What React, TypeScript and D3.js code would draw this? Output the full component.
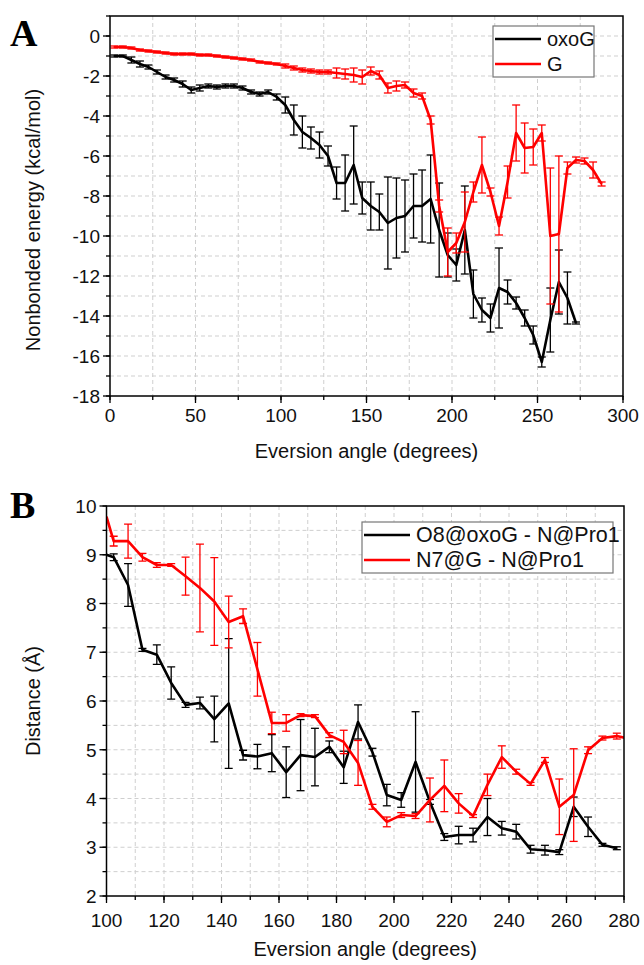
import React from "react";
import * as d3 from "d3";

// ---------- Panel A data ----------
const anglesA = [2.5, 7.5, 12.5, 17.5, 22.5, 27.5, 32.5, 37.5, 42.5, 47.5, 52.5, 57.5, 62.5, 67.5, 72.5, 77.5, 82.5, 87.5, 92.5, 97.5,
  102.5, 107.5, 112.5, 117.5, 122.5, 127.5, 132.5, 137.5, 142.5, 147.5, 152.5, 157.5, 162.5, 167.5, 172.5, 177.5, 182.5, 187.5, 192.5, 197.5,
  202.5, 207.5, 212.5, 217.5, 222.5, 227.5, 232.5, 237.5, 242.5, 247.5, 252.5, 257.5, 262.5, 267.5, 272.5, 277.5, 282.5, 287.5];
const oxoGEnergy = [-1.0, -1.0, -1.2, -1.4, -1.55, -1.8, -2.05, -2.2, -2.4, -2.7, -2.6, -2.5, -2.55, -2.5, -2.5, -2.6, -2.8, -2.9, -2.8, -3.05,
  -3.45, -4.2, -4.8, -5.1, -5.45, -6.0, -7.35, -7.35, -6.45, -8.1, -8.5, -8.8, -9.35, -9.1, -9.0, -8.5, -8.5, -8.15, -9.7, -10.95,
  -11.45, -9.7, -12.9, -13.7, -14.1, -12.6, -12.8, -13.35, -14.1, -14.95, -16.3, -14.2, -12.3, -13.1, -14.35];
const oxoGEnergyErr = [0.05, 0.05, 0.15, 0.15, 0.1, 0.1, 0.1, 0.1, 0.15, 0.15, 0.15, 0.1, 0.1, 0.1, 0.1, 0.1, 0.1, 0.1, 0.1, 0.15,
  0.4, 0.75, 0.8, 0.55, 0.65, 0.5, 0.8, 1.4, 1.95, 0.8, 1.2, 0.9, 2.3, 2.0, 1.8, 1.6, 1.8, 2.2, 2.35, 1.1,
  0.8, 2.2, 1.2, 0.6, 0.7, 2.0, 0.6, 0.3, 0.4, 0.45, 0.25, 1.6, 1.6, 1.3, 0.05];
const gEnergy = [-0.55, -0.55, -0.6, -0.7, -0.75, -0.8, -0.85, -0.9, -0.9, -0.9, -0.95, -0.95, -1.0, -1.05, -1.1, -1.15, -1.2, -1.3, -1.35, -1.4,
  -1.5, -1.6, -1.7, -1.75, -1.8, -1.8, -1.85, -1.9, -1.95, -2.05, -1.75, -1.95, -2.6, -2.5, -2.45, -2.85, -3.0, -4.2, -8.5, -10.8,
  -10.35, -9.3, -7.8, -6.45, -7.8, -9.5, -7.3, -4.85, -5.6, -5.55, -4.85, -10.0, -9.9, -6.6, -6.2, -6.25, -6.7, -7.4];
const gEnergyErr = [0.05, 0.05, 0.05, 0.05, 0.05, 0.05, 0.05, 0.05, 0.05, 0.05, 0.05, 0.05, 0.05, 0.05, 0.05, 0.05, 0.05, 0.05, 0.05, 0.05,
  0.1, 0.1, 0.1, 0.1, 0.1, 0.1, 0.25, 0.25, 0.35, 0.35, 0.2, 0.2, 0.25, 0.25, 0.15, 0.2, 0.15, 0.2, 0.3, 1.2,
  0.5, 1.5, 0.5, 1.4, 0.2, 0.45, 0.8, 1.4, 1.25, 0.9, 0.4, 3.4, 3.9, 0.3, 0.15, 0.15, 0.4, 0.1];

// ---------- Panel B data ----------
const anglesB = [100, 102.5, 107.5, 112.5, 117.5, 122.5, 127.5, 132.5, 137.5, 142.5, 147.5, 152.5, 157.5, 162.5, 167.5, 172.5, 177.5, 182.5, 187.5, 192.5,
  197.5, 202.5, 207.5, 212.5, 217.5, 222.5, 227.5, 232.5, 237.5, 242.5, 247.5, 252.5, 257.5, 262.5, 267.5, 272.5, 277.5, 282.5];
const o8Distance = [9.0, 8.95, 8.38, 7.05, 6.95, 6.37, 5.92, 5.96, 5.63, 5.95, 4.89, 4.86, 4.93, 4.54, 4.89, 4.85, 5.06, 4.64, 5.57, 4.95,
  4.07, 3.97, 4.75, 3.93, 3.21, 3.25, 3.25, 3.62, 3.39, 3.32, 2.96, 2.94, 2.9, 3.83, 3.42, 3.05, 2.98];
const o8DistanceErr = [0, 0.07, 0.44, 0.03, 0.2, 0.33, 0.05, 0.12, 0.47, 1.33, 0.1, 0.25, 0.38, 0.52, 0.73, 0.59, 0.12, 0.33, 0.35, 0.08,
  0.22, 0.15, 1.03, 0.05, 0.07, 0.18, 0.14, 0.38, 0.14, 0.15, 0.08, 0.1, 0.05, 0.2, 0.2, 0.03, 0.03];
const n7Distance = [9.78, 9.28, 9.28, 8.95, 8.79, 8.79, 8.56, 8.32, 8.04, 7.62, 7.74, 6.65, 5.55, 5.55, 5.71, 5.69, 5.3, 5.16, 4.73, 3.83,
  3.52, 3.66, 3.64, 3.97, 4.26, 3.9, 3.64, 4.28, 4.85, 4.55, 4.3, 4.79, 3.83, 4.07, 4.99, 5.24, 5.28, 5.22];
const n7DistanceErr = [0, 0.1, 0.35, 0.08, 0.05, 0.03, 0.39, 0.9, 0.9, 0.53, 0.15, 0.55, 0.22, 0.17, 0.03, 0.03, 0.05, 0.24, 0.46, 0.05,
  0.1, 0.05, 0.05, 0.45, 0.53, 0.2, 0.03, 0.22, 0.23, 0.05, 0.03, 0.05, 0.57, 0.95, 0.07, 0.04, 0.06, 0];

const legendA = ["oxoG", "G"];
const legendB = ["O8@oxoG - N@Pro1", "N7@G - N@Pro1"];

const FONT = "'Liberation Sans', Arial, sans-serif";
const RED = "#ff0000";
const BLACK = "#000000";

type Pt = { x: number; y: number; e: number };

function series(xs: number[], ys: number[], es: number[]): Pt[] {
  return ys.map((y, i) => ({ x: xs[i], y, e: es[i] }));
}

type PanelProps = {
  id: string;
  left: number; right: number; top: number; bottom: number;
  xDomain: [number, number]; yDomain: [number, number];
  xMajor: number; xMinor: number; yMajor: number; yMinor: number;
  xGrid: number; yGrid: number;
  data: { pts: Pt[]; color: string }[];
  yTitle: string; titleY: number;
  xTickDy: number; xTitleY: number;
  legend: { labels: string[]; x: number; y: number; w: number; h: number; lineLen: number; fontSize: number };
  letter: string; letterY: number;
};

function Panel(p: PanelProps) {
  const x = d3.scaleLinear().domain(p.xDomain).range([p.left, p.right]);
  const y = d3.scaleLinear().domain(p.yDomain).range([p.bottom, p.top]);
  const eps = 1e-9;
  const rng = (a: number, b: number, s: number) => d3.range(a, b + s / 2, s);
  const xGrid = rng(p.xDomain[0], p.xDomain[1], p.xGrid).filter(v => v > p.xDomain[0] + eps && v < p.xDomain[1] - eps);
  const yGrid = rng(p.yDomain[0], p.yDomain[1], p.yGrid).filter(v => v > p.yDomain[0] + eps && v < p.yDomain[1] - eps);
  const xMinor = rng(p.xDomain[0], p.xDomain[1], p.xMinor);
  const xMajor = rng(p.xDomain[0], p.xDomain[1], p.xMajor);
  const yStart = Math.ceil(p.yDomain[0] / p.yMajor) * p.yMajor;
  const yMajor = rng(yStart, p.yDomain[1], p.yMajor).filter(v => v <= p.yDomain[1] + eps);
  const yMinor = rng(p.yDomain[0], p.yDomain[1], p.yMinor);
  const line = d3.line<Pt>().x(d => x(d.x)).y(d => y(d.y));
  const cap = 4;
  const clipId = "clip" + p.id;
  return (
    <g>
      <defs>
        <clipPath id={clipId}>
          <rect x={p.left} y={p.top} width={p.right - p.left} height={p.bottom - p.top} />
        </clipPath>
      </defs>
      {/* grid */}
      <g stroke="#cfcfcf" strokeWidth={1} strokeDasharray="4 3">
        {xGrid.map(v => <line key={"gx" + v} x1={x(v)} x2={x(v)} y1={p.top} y2={p.bottom} />)}
        {yGrid.map(v => <line key={"gy" + v} x1={p.left} x2={p.right} y1={y(v)} y2={y(v)} />)}
      </g>
      {/* data */}
      <g clipPath={`url(#${clipId})`}>
        {p.data.map((s, si) => (
          <g key={"s" + si}>
            <g stroke={s.color} strokeWidth={1.3} fill="none">
              {s.pts.filter(d => d.e > 0.02).map((d, i) => (
                <g key={i}>
                  <line x1={x(d.x)} x2={x(d.x)} y1={y(d.y + d.e)} y2={y(d.y - d.e)} />
                  <line x1={x(d.x) - cap} x2={x(d.x) + cap} y1={y(d.y + d.e)} y2={y(d.y + d.e)} />
                  <line x1={x(d.x) - cap} x2={x(d.x) + cap} y1={y(d.y - d.e)} y2={y(d.y - d.e)} />
                </g>
              ))}
            </g>
            <path d={line(s.pts) || ""} fill="none" stroke={s.color} strokeWidth={2.6} strokeLinejoin="round" />
          </g>
        ))}
      </g>
      {/* frame */}
      <rect x={p.left} y={p.top} width={p.right - p.left} height={p.bottom - p.top} fill="none" stroke="#000" strokeWidth={1.5} />
      {/* ticks */}
      <g stroke="#000" strokeWidth={1.3}>
        {xMinor.map(v => <line key={"xm" + v} x1={x(v)} x2={x(v)} y1={p.bottom} y2={p.bottom + 4} />)}
        {xMajor.map(v => <line key={"xM" + v} x1={x(v)} x2={x(v)} y1={p.bottom} y2={p.bottom + 7} />)}
        {yMinor.map(v => <line key={"ym" + v} x1={p.left - 4} x2={p.left} y1={y(v)} y2={y(v)} />)}
        {yMajor.map(v => <line key={"yM" + v} x1={p.left - 7} x2={p.left} y1={y(v)} y2={y(v)} />)}
      </g>
      <g fontFamily={FONT} fontSize={19} fill="#111">
        {xMajor.map(v => (
          <text key={"xl" + v} x={x(v)} y={p.bottom + p.xTickDy} textAnchor="middle">{v}</text>
        ))}
        {yMajor.map(v => (
          <text key={"yl" + v} x={p.left - 10} y={y(v) + 7} textAnchor="end">{v}</text>
        ))}
      </g>
      <text x={(p.left + p.right) / 2} y={p.xTitleY} textAnchor="middle" fontFamily={FONT} fontSize={20} fill="#111">Eversion angle (degrees)</text>
      <text transform={`translate(40,${p.titleY}) rotate(-90)`} textAnchor="middle" fontFamily={FONT} fontSize={20} fill="#111">{p.yTitle}</text>
      {/* legend */}
      <g>
        <rect x={p.legend.x} y={p.legend.y} width={p.legend.w} height={p.legend.h} fill="#fff" stroke="#777" strokeWidth={1.2} />
        {p.legend.labels.map((lab, i) => {
          const ly = p.legend.y + 13 + i * 25;
          return (
            <g key={lab}>
              <line x1={p.legend.x + 2} x2={p.legend.x + 2 + p.legend.lineLen} y1={ly} y2={ly} stroke={p.data[i].color} strokeWidth={2.6} />
              <text x={p.legend.x + p.legend.lineLen + 8} y={ly + 7} fontFamily={FONT} fontSize={p.legend.fontSize} fill="#111">{lab}</text>
            </g>
          );
        })}
      </g>
      <text x={10} y={p.letterY} fontFamily="'Liberation Serif', 'Times New Roman', serif" fontWeight="bold" fontSize={38} fill="#000">{p.letter}</text>
    </g>
  );
}

export default function App() {
  const oxoG = series(anglesA, oxoGEnergy, oxoGEnergyErr);
  const g = series(anglesA, gEnergy, gEnergyErr);
  const o8 = series(anglesB, o8Distance, o8DistanceErr);
  const n7 = series(anglesB, n7Distance, n7DistanceErr);
  return (
    <svg width={644} height={965} style={{ position: "absolute", left: 0, top: 0, background: "#fff" }}>
      <rect x={0} y={0} width={644} height={965} fill="#fff" />
      <Panel
        id="A" left={110} right={623} top={16} bottom={396}
        xDomain={[0, 300]} yDomain={[-18, 1]}
        xMajor={50} xMinor={25} yMajor={2} yMinor={1} xGrid={25} yGrid={1}
        data={[{ pts: oxoG, color: BLACK }, { pts: g, color: RED }]}
        yTitle="Nonbonded energy (kcal/mol)" titleY={220}
        xTickDy={26} xTitleY={458}
        legend={{ labels: legendA, x: 493, y: 26, w: 101, h: 51, lineLen: 46, fontSize: 20 }}
        letter="A" letterY={46}
      />
      <Panel
        id="B" left={106.5} right={624} top={506} bottom={896}
        xDomain={[100, 280]} yDomain={[2, 10]}
        xMajor={20} xMinor={10} yMajor={1} yMinor={0.5} xGrid={10} yGrid={0.5}
        data={[{ pts: o8, color: BLACK }, { pts: n7, color: RED }]}
        yTitle="Distance (Å)" titleY={701}
        xTickDy={31} xTitleY={956}
        legend={{ labels: legendB, x: 362, y: 522, w: 251, h: 51, lineLen: 46, fontSize: 21.5 }}
        letter="B" letterY={518}
      />
    </svg>
  );
}
